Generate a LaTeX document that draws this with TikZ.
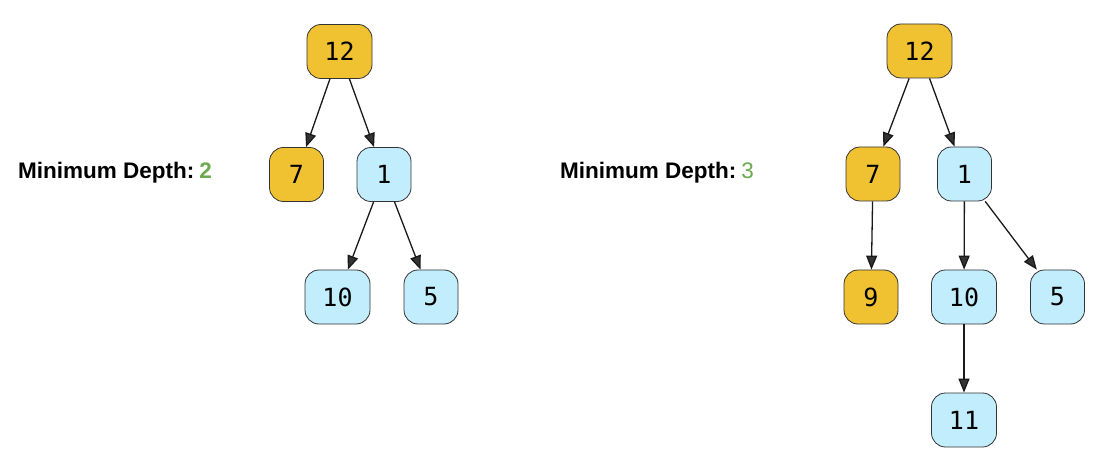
\documentclass[tikz,border=0pt]{standalone}
\usepackage{fontspec}
\setmainfont{Liberation Sans}
\newfontfamily\digitfont{DejaVu Sans Mono}
\usepackage{tikz}
\usetikzlibrary{calc,arrows.meta}
\definecolor{gold}{HTML}{F0C232}
\definecolor{sky}{HTML}{C2EDFD}
\definecolor{depthgreen}{HTML}{6AAA50}
\definecolor{edgegray}{HTML}{333333}
\tikzset{
  cell/.style={draw=edgegray, line width=0.8pt, rounded corners=14pt,
    minimum width=54pt, minimum height=54pt, inner sep=0pt,
    font=\digitfont\fontsize{25}{25}\selectfont},
  wide/.style={cell, minimum width=65pt},
  hot/.style={fill=gold},
  cold/.style={fill=sky},
  link/.style={draw=black!90, line width=1.3pt,
    -{Triangle[length=14pt,width=11pt,fill=edgegray]}},
  caption/.style={anchor=base west, inner sep=0pt,
    font=\fontsize{22.5}{22.5}\selectfont\bfseries}
}
\begin{document}
\begin{tikzpicture}[x=1pt,y=-1pt]
                \useasboundingbox (0,0) rectangle (1106,465);
                % first tree
                \node[caption] (depthA) at (18,179) {Minimum Depth:\hspace{5pt}\textcolor{depthgreen}{2}};
                \node[wide,hot] (a12) at (339.5,51.5) {12};
                \node[cell,hot] (a7) at (296.5,174.5) {7};
                \node[cell,cold] (a1) at (384,174.5) {1};
                \node[wide,cold] (a10) at (337.5,297) {10};
                \node[cell,cold] (a5) at (431,297) {5};
                \draw[link] (a12) -- (a7);
                \draw[link] (a12) -- (a1);
                \draw[link] (a1) -- (a10);
                \draw[link] (a1) -- (a5);
                % second tree
                \node[caption] (depthB) at (560,179) {Minimum Depth:\hspace{5pt}\textcolor{depthgreen}{\mdseries 3}};
                \node[wide,hot] (b12) at (919.5,51) {12};
                \node[cell,hot] (b7) at (873,174) {7};
                \node[cell,cold] (b1) at (964.5,174) {1};
                \node[cell,hot] (b9) at (871,297) {9};
                \node[wide,cold] (b10) at (964,297) {10};
                \node[cell,cold] (b5) at (1057.5,297) {5};
                \node[wide,cold] (b11) at (964,420) {11};
                \draw[link] (b12) -- (b7);
                \draw[link] (b12) -- (b1);
                \draw[link] (b7) -- (b9);
                \draw[link] (b1) -- (b10);
                \draw[link] (b1) -- (b5);
                \draw[link] (b10) -- (b11);
                \end{tikzpicture}
\end{document}
